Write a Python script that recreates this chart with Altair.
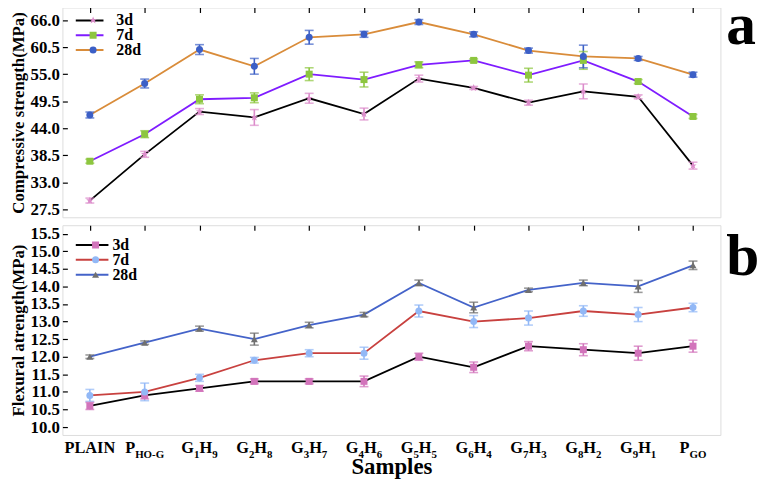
import altair as alt
import pandas as pd

samples = ["PLAIN", "PHO-G", "G1H9", "G2H8", "G3H7", "G4H6",
           "G5H5", "G6H4", "G7H3", "G8H2", "G9H1", "PGO"]
# label pieces: (main text, subscript text)
label_parts = [[("PLAIN", "")], [("P", "HO-G")], [("G", "1"), ("H", "9")],
               [("G", "2"), ("H", "8")], [("G", "3"), ("H", "7")], [("G", "4"), ("H", "6")],
               [("G", "5"), ("H", "5")], [("G", "6"), ("H", "4")], [("G", "7"), ("H", "3")],
               [("G", "8"), ("H", "2")], [("G", "9"), ("H", "1")], [("P", "GO")]]
ages = ["3d", "7d", "28d"]

# Compressive strength (MPa)
comp_3d = [29.3, 38.7, 47.4, 46.2, 50.1, 46.9, 54.1, 52.2, 49.2, 51.5, 50.4, 36.4]
comp_3d_err = [0.5, 0.6, 0.6, 1.6, 1.0, 1.2, 0.7, 0.3, 0.5, 1.5, 0.4, 0.7]
comp_7d = [37.3, 42.8, 49.9, 50.2, 55.0, 53.9, 56.9, 57.8, 54.8, 57.8, 53.5, 46.4]
comp_7d_err = [0.4, 0.7, 0.9, 1.0, 1.3, 1.5, 0.6, 0.3, 1.4, 1.8, 0.4, 0.4]
comp_28d = [46.7, 53.1, 60.0, 56.6, 62.5, 63.1, 65.6, 63.1, 59.8, 58.6, 58.2, 54.9]
comp_28d_err = [0.6, 0.9, 1.0, 1.6, 1.4, 0.6, 0.5, 0.5, 0.5, 2.3, 0.4, 0.5]

# Flexural strength (MPa)
flex_3d = [10.6, 10.9, 11.1, 11.3, 11.3, 11.3, 12.0, 11.7, 12.3, 12.2, 12.1, 12.3]
flex_3d_err = [0.1, 0.1, 0.08, 0.07, 0.07, 0.15, 0.1, 0.15, 0.13, 0.17, 0.2, 0.17]
flex_7d = [10.9, 11.0, 11.4, 11.9, 12.1, 12.1, 13.3, 13.0, 13.1, 13.3, 13.2, 13.4]
flex_7d_err = [0.17, 0.25, 0.1, 0.08, 0.1, 0.17, 0.17, 0.17, 0.2, 0.15, 0.2, 0.12]
flex_28d = [12.0, 12.4, 12.8, 12.5, 12.9, 13.2, 14.1, 13.4, 13.9, 14.1, 14.0, 14.6]
flex_28d_err = [0.05, 0.05, 0.07, 0.17, 0.08, 0.06, 0.08, 0.15, 0.05, 0.08, 0.17, 0.12]

comp_ticks = [27.5, 33.0, 38.5, 44.0, 49.5, 55.0, 60.5, 66.0]
flex_ticks = [10.0, 10.5, 11.0, 11.5, 12.0, 12.5, 13.0, 13.5, 14.0, 14.5, 15.0, 15.5]
panel_letters = ["a", "b"]

FONT = "Liberation Serif"
W = 665
H = 212
STEP = W / 12.0


def make_df(series):
    rows = []
    for age, vals, errs in series:
        for i, (s, v, e) in enumerate(zip(samples, vals, errs)):
            rows.append({"sample": s, "idx": i, "age": age, "age_m": age,
                         "value": v, "lo": v - e, "hi": v + e})
    return pd.DataFrame(rows)


df_a = make_df([("3d", comp_3d, comp_3d_err), ("7d", comp_7d, comp_7d_err),
                ("28d", comp_28d, comp_28d_err)])
df_b = make_df([("3d", flex_3d, flex_3d_err), ("7d", flex_7d, flex_7d_err),
                ("28d", flex_28d, flex_28d_err)])

# x-axis label pieces with subscripts
CW = {"P": 0.611, "L": 0.667, "A": 0.722, "I": 0.389, "N": 0.722, "G": 0.778,
      "H": 0.778, "O": 0.778, "-": 0.333}
MAIN_FS, SUB_FS = 16.5, 11


def tw(t, fs):
    return sum(CW.get(c, 0.5) for c in t) * fs


lab_rows = []
for i, parts in enumerate(label_parts):
    total = sum(tw(m, MAIN_FS) + tw(s, SUB_FS) for m, s in parts)
    cur = -total / 2.0
    for m, s in parts:
        lab_rows.append({"xpos": i + cur / STEP, "text": m, "kind": "main"})
        cur += tw(m, MAIN_FS)
        if s:
            lab_rows.append({"xpos": i + cur / STEP, "text": s, "kind": "sub"})
            cur += tw(s, SUB_FS)
lab_df = pd.DataFrame(lab_rows)


def panel(df, domain, ticks, ytitle, line_colors, mark_colors, shapes, letter,
          letter_y, show_xlabels, leg_y, sym_w, lab_off):
    xscale = alt.Scale(domain=[-0.5, 11.5], nice=False, zero=False)
    xaxis = alt.Axis(values=list(range(12)), tickCount=30, labels=False, ticks=False,
                     domain=False, grid=True, gridDash=[5, 2000], gridColor="black",
                     gridWidth=1.2, gridOpacity=1,
                     title="Samples" if show_xlabels else None,
                     titleFont=FONT, titleFontSize=23, titleFontWeight="bold",
                     titleColor="black", titlePadding=21)
    yscale = alt.Scale(domain=domain, nice=False, zero=False)
    yaxis = alt.Axis(values=ticks, tickCount=30, format=".1f", ticks=False,
                     domain=False, grid=True, gridDash=[5, 2000], gridColor="black",
                     gridWidth=1.2, gridOpacity=1, labelFont=FONT, labelFontSize=17,
                     labelFontWeight="bold", labelColor="black", labelPadding=3,
                     labelOverlap=False,
                     title=ytitle, titleFont=FONT, titleFontSize=17,
                     titleFontWeight="bold", titleColor="black", titlePadding=3)
    base = alt.Chart(df)
    x = alt.X("idx:Q", scale=xscale, axis=xaxis)
    lines = base.mark_line(strokeWidth=1.8).encode(
        x=x,
        y=alt.Y("value:Q", scale=yscale, axis=yaxis),
        stroke=alt.Stroke("age:N", sort=ages,
                          scale=alt.Scale(range=line_colors),
                          legend=alt.Legend(orient="none", legendX=12.5, legendY=leg_y,
                                            title=None, symbolType="stroke",
                                            symbolSize=sym_w * sym_w,
                                            symbolStrokeWidth=2,
                                            labelFont=FONT, labelFontSize=16,
                                            labelFontWeight="bold", labelColor="black",
                                            labelOffset=lab_off, rowPadding=-2,
                                            padding=0, clipHeight=14)),
    )
    ecol = alt.Color("age_m:N", sort=ages, scale=alt.Scale(range=mark_colors),
                     legend=None)
    rules = base.mark_rule(strokeWidth=1.6).encode(x=x, y="lo:Q", y2="hi:Q", color=ecol)
    cap_lo = base.mark_tick(orient="horizontal", size=9, thickness=1.6).encode(
        x=x, y="lo:Q", color=ecol)
    cap_hi = base.mark_tick(orient="horizontal", size=9, thickness=1.6).encode(
        x=x, y="hi:Q", color=ecol)
    leg2 = alt.Legend(orient="none", legendX=12.5 + sym_w / 2.0 - 3.5, legendY=leg_y,
                      title=None, symbolSize=50, labelFont=FONT, labelFontSize=16,
                      labelFontWeight="bold", labelOpacity=0, rowPadding=-2, padding=0,
                      symbolStrokeWidth=0, clipHeight=14)
    points = base.mark_point(filled=True, size=50, opacity=1, strokeWidth=0).encode(
        x=x, y="value:Q",
        fill=alt.Fill("age_m:N", scale=alt.Scale(domain=ages, range=mark_colors),
                      legend=leg2),
        shape=alt.Shape("age_m:N", scale=alt.Scale(domain=ages, range=shapes),
                        legend=leg2),
    )
    letter_layer = alt.Chart(pd.DataFrame({"t": [letter]})).mark_text(
        font=FONT, fontSize=60, fontWeight="bold", align="left", baseline="alphabetic",
        color="black").encode(text="t:N", x=alt.value(W + 6), y=alt.value(letter_y))
    layers = [lines, rules, cap_lo, cap_hi, points, letter_layer]
    if show_xlabels:
        lb = alt.Chart(lab_df)
        main = lb.transform_filter("datum.kind == 'main'").mark_text(
            font=FONT, fontSize=MAIN_FS, fontWeight="bold", align="left",
            baseline="alphabetic", color="black").encode(
            x=alt.X("xpos:Q", scale=xscale), y=alt.value(H + 18), text="text:N")
        sub = lb.transform_filter("datum.kind == 'sub'").mark_text(
            font=FONT, fontSize=SUB_FS, fontWeight="bold", align="left",
            baseline="alphabetic", color="black").encode(
            x=alt.X("xpos:Q", scale=xscale), y=alt.value(H + 23), text="text:N")
        layers += [main, sub]
    return alt.layer(*layers).properties(width=W, height=H)


pa = panel(df_a, [25.9, 68.55], comp_ticks, "Compressive strength(MPa)",
           ["#000000", "#7f1cff", "#d98c3a"], ["#dc8ccb", "#8dc63f", "#3c5fc6"],
           ["M0,-1.1L0.3,-0.35L1.05,-0.35L0.45,0.1L0.7,0.9L0,0.42L-0.7,0.9L-0.45,0.1L-1.05,-0.35L-0.3,-0.35Z",
            "square", "circle"], "a", 37, False, 6, 28, 12)
pb = panel(df_b, [9.775, 15.74], flex_ticks, "Flexural atrength(MPa)",
           ["#000000", "#c8413f", "#4463c9"], ["#d274bb", "#92b8f6", "#707070"],
           ["square", "circle", "triangle-up"], "b", 50, True, 13, 33, 3)

chart = alt.vconcat(pa, pb, spacing=6).resolve_scale(
    stroke="independent", fill="independent", shape="independent",
    color="independent", x="independent", y="independent"
).properties(
    padding={"left": 0, "top": -15, "right": 0, "bottom": 0}
).configure_view(stroke="black", strokeWidth=1.5).configure(background="white")

chart.save("out.html", embed_options={"renderer": "svg", "actions": False})
